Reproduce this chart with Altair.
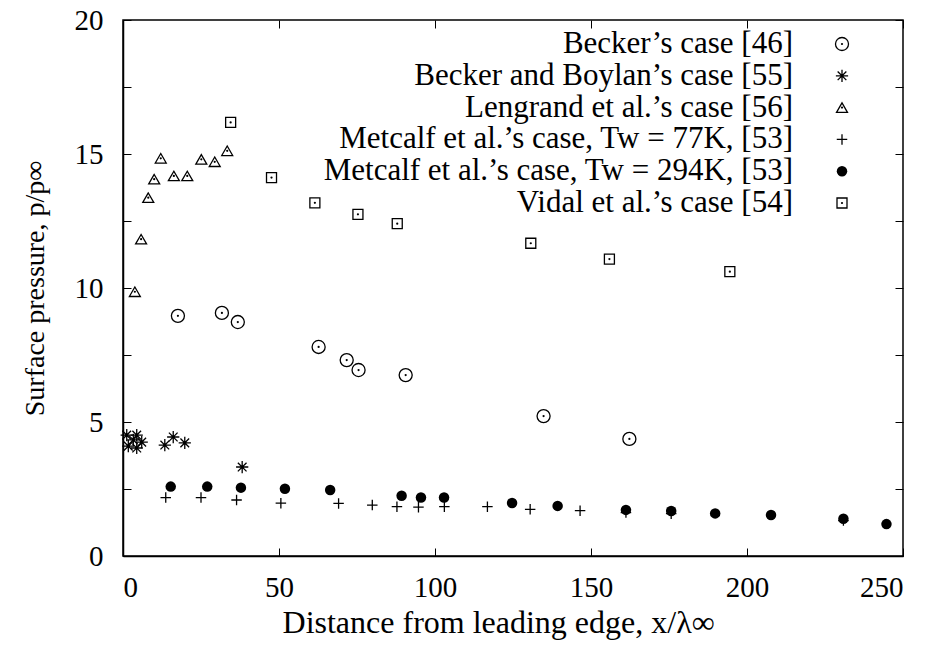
import altair as alt
import pandas as pd

# ---------------- data ----------------
becker_x = [17.6, 31.7, 36.8, 62.7, 71.7, 75.5, 90.6, 134.8, 162.3]
becker_y = [8.96, 9.07, 8.73, 7.80, 7.31, 6.94, 6.75, 5.22, 4.37]

boylan_x = [1.2, 1.7, 3.3, 4.4, 4.4, 6.0, 13.4, 16.1, 19.8, 38.2]
boylan_y = [4.51, 4.10, 4.33, 4.51, 4.03, 4.25, 4.14, 4.44, 4.22, 3.32]

lengrand_x = [3.8, 5.8, 8.1, 10.0, 12.1, 16.3, 20.6, 25.1, 29.4, 33.4]
lengrand_y = [9.86, 11.82, 13.37, 14.06, 14.84, 14.18, 14.18, 14.80, 14.71, 15.12]

m77_x = [13.7, 25.0, 36.4, 50.6, 69.1, 79.9, 87.8, 94.7, 103.0, 116.8, 130.5, 146.5, 161.2, 175.7, 230.9]
m77_y = [2.18, 2.18, 2.09, 1.97, 1.96, 1.90, 1.84, 1.82, 1.84, 1.84, 1.74, 1.69, 1.62, 1.58, 1.32]

m294_x = [15.3, 27.0, 37.8, 51.9, 66.4, 89.3, 95.5, 102.9, 124.7, 139.3, 161.2, 175.7, 189.8, 207.7, 230.9, 244.7]
m294_y = [2.59, 2.59, 2.55, 2.51, 2.46, 2.25, 2.18, 2.18, 1.98, 1.87, 1.72, 1.68, 1.59, 1.53, 1.39, 1.19]

vidal_x = [34.5, 47.6, 61.5, 75.3, 87.9, 130.7, 155.9, 194.5]
vidal_y = [16.18, 14.12, 13.18, 12.75, 12.40, 11.67, 11.08, 10.61]

legend_labels = [
    "Becker’s case [46]",
    "Becker and Boylan’s case [55]",
    "Lengrand et al.’s case [56]",
    "Metcalf et al.’s case, Tw = 77K, [53]",
    "Metcalf et al.’s case, Tw = 294K, [53]",
    "Vidal et al.’s case [54]",
]

x_ticks = [0, 50, 100, 150, 200, 250]
y_ticks = [0, 2.5, 5, 7.5, 10, 12.5, 15, 17.5, 20]

# ---------------- layout / style ----------------
W, H = 780, 536
FONT = "Liberation Serif"
TICK = 8

ASTERISK = "M-1,0L1,0M0,-1L0,1M-0.71,-0.71L0.71,0.71M-0.71,0.71L0.71,-0.71"
PLUS = "M-1,0L1,0M0,-1L0,1"

styles = [
    dict(shape="circle", size=170, filled=False, dot=True),
    dict(shape=ASTERISK, size=150, filled=False, dot=False),
    dict(shape="triangle-up", size=120, filled=False, dot=True),
    dict(shape=PLUS, size=110, filled=False, dot=False),
    dict(shape="circle", size=110, filled=True, dot=False),
    dict(shape="square", size=100, filled=False, dot=True),
]

series = [
    (becker_x, becker_y),
    (boylan_x, boylan_y),
    (lengrand_x, lengrand_y),
    (m77_x, m77_y),
    (m294_x, m294_y),
    (vidal_x, vidal_y),
]

x_axis = alt.Axis(
    values=x_ticks, title="Distance from leading edge, x/λ∞",
    grid=True, gridDash=[TICK, H - 2 * TICK, TICK, 2000], gridColor="black",
    gridOpacity=1, gridWidth=1, ticks=False, labelPadding=17,
    domainColor="black", domainWidth=1.5, labelFont=FONT, labelFontSize=29,
    labelColor="black", titleFont=FONT, titleFontSize=32, titleFontWeight="normal",
    titleColor="black", titlePadding=5, titleX=375,
)
y_axis = alt.Axis(
    values=y_ticks, title="Surface pressure, p/p∞",
    labelExpr="datum.value % 5 == 0 ? datum.label : ''",
    grid=True, gridDash=[TICK, W - 2 * TICK, TICK, 2000], gridColor="black",
    gridOpacity=1, gridWidth=1, ticks=False, labelPadding=20,
    domainColor="black", domainWidth=1.5, labelFont=FONT, labelFontSize=29,
    labelColor="black", titleFont=FONT, titleFontSize=28, titleFontWeight="normal",
    titleColor="black", titlePadding=25,
)

xs = alt.Scale(domain=[0, 250], nice=False, zero=False)
ys = alt.Scale(domain=[0, 20], nice=False, zero=False)


def marks(df, x, y, st):
    base = alt.Chart(df)
    out = [base.mark_point(shape=st["shape"], size=st["size"], filled=st["filled"],
                           color="black", strokeWidth=1.3, opacity=1).encode(x=x, y=y)]
    if st["dot"]:
        out.append(base.mark_point(shape="circle", size=5, filled=True,
                                   color="black", opacity=1).encode(x=x, y=y))
    return out


main_layers = []
for (sx, sy), st in zip(series, styles):
    df = pd.DataFrame({"x": sx, "p": sy})
    xe = alt.X("x:Q", scale=xs, axis=x_axis)
    ye = alt.Y("p:Q", scale=ys, axis=y_axis)
    main_layers += marks(df, xe, ye, st)
main = alt.layer(*main_layers)

# in-plot key: text right-aligned, symbol to its right
leg_scale = alt.Scale(domain=[0, 5], range=[24, 183], nice=False, zero=False)
leg_df = pd.DataFrame({"row": list(range(len(legend_labels))), "label": legend_labels})
leg_y = alt.Y("row:Q", scale=leg_scale, axis=None)
leg_layers = [alt.Chart(leg_df).mark_text(align="right", baseline="middle", font=FONT,
                                          fontSize=31, color="black").encode(
    x=alt.value(670), y=leg_y, text="label:N")]
for i, st in enumerate(styles):
    ldf = pd.DataFrame({"row": [i]})
    leg_layers += marks(ldf, alt.value(719), leg_y, st)
legend = alt.layer(*leg_layers)

chart = alt.layer(main, legend).resolve_scale(y="independent").properties(
    width=W, height=H,
    padding={"left": 123, "top": 20, "right": 25, "bottom": 99},
    autosize=alt.AutoSizeParams(type="none"),
    background="white",
).configure_view(stroke="black", strokeWidth=1.5)

chart.save("out.html", embed_options={"renderer": "svg", "actions": False})
